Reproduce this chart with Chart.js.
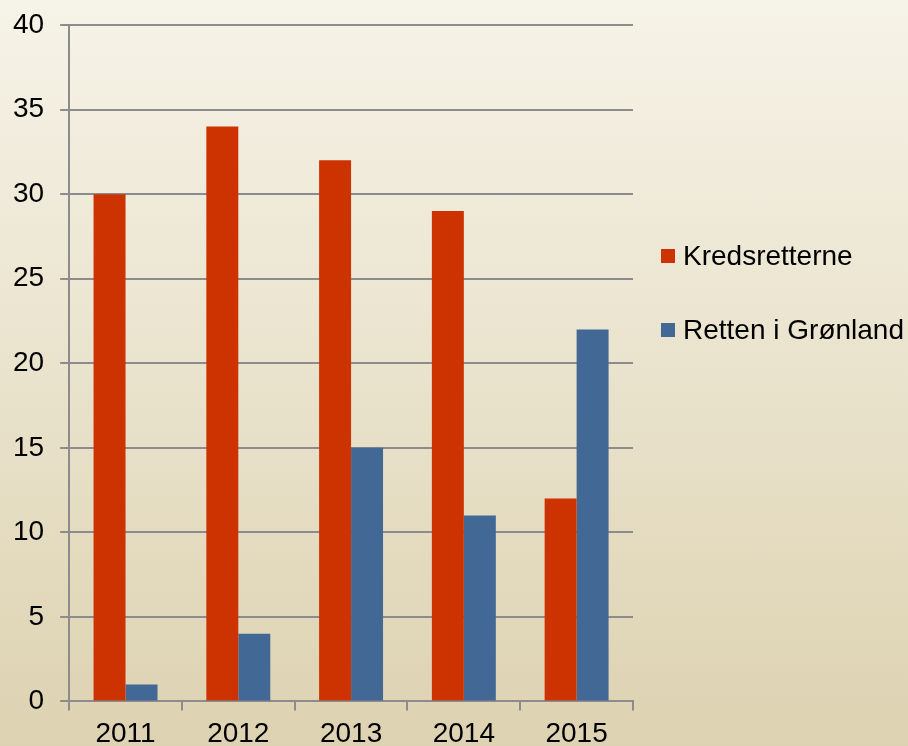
<!DOCTYPE html>
<html>
<head>
<meta charset="utf-8">
<script src="https://cdn.jsdelivr.net/npm/chart.js@4.4.0/dist/chart.umd.min.js"></script>
<style>
  html, body { margin: 0; padding: 0; }
  body {
    width: 908px; height: 746px; overflow: hidden; position: relative;
    background: linear-gradient(#f6f3e8, #ddd2b1);
    font-family: "Liberation Sans", Arial, sans-serif;
  }
  #wrap { position: absolute; left: 0; top: 0; width: 908px; height: 746px; }
  .legend-item { position: absolute; left: 661px; height: 30px; line-height: 30px; font-size: 28px; color: #000; white-space: nowrap; }
  .legend-item span.box { position: absolute; left: 0; top: 8px; width: 14px; height: 14px; }
  .legend-item span.txt { position: absolute; left: 22px; top: 0; }
</style>
</head>
<body>
<div id="wrap"><canvas id="myChart" width="908" height="746"></canvas></div>
<div id="legend"></div>
<script>
const years = ['2011', '2012', '2013', '2014', '2015'];
const kredsretterne = [30, 34, 32, 29, 12];
const rettenGronland = [1, 4, 15, 11, 22];
const seriesNames = ['Kredsretterne', 'Retten i Grønland'];
const seriesColors = ['#cc3300', '#426896'];

const gridColor = '#8c8c8c';
const fontFamily = '"Liberation Sans", Arial, sans-serif';

const ctx = document.getElementById('myChart').getContext('2d');
const chart = new Chart(ctx, {
  type: 'bar',
  data: {
    labels: years,
    datasets: [
      {
        label: seriesNames[0],
        data: kredsretterne,
        backgroundColor: seriesColors[0],
        barPercentage: 1.0,
        categoryPercentage: 0.567
      },
      {
        label: seriesNames[1],
        data: rettenGronland,
        backgroundColor: seriesColors[1],
        barPercentage: 1.0,
        categoryPercentage: 0.567
      }
    ]
  },
  options: {
    responsive: false,
    animation: false,
    layout: {
      padding: { left: -3, right: 275, top: 0, bottom: -12 }
    },
    plugins: {
      legend: { display: false },
      tooltip: { enabled: false }
    },
    scales: {
      x: {
        grid: {
          offset: true,
          drawOnChartArea: false,
          color: gridColor,
          lineWidth: 2,
          tickLength: 9
        },
        border: { color: gridColor, width: 2 },
        ticks: { color: '#000', font: { family: fontFamily, size: 28 }, padding: 7 }
      },
      y: {
        min: 0,
        max: 40,
        grid: {
          color: gridColor,
          lineWidth: 2,
          tickLength: 9
        },
        border: { color: gridColor, width: 2 },
        // small lineHeight keeps the top label from pushing the plot down
        ticks: { stepSize: 5, color: '#000', font: { family: fontFamily, size: 28, lineHeight: 0.65 }, padding: 16 }
      }
    }
  }
});

// legend drawn as html on the right side
const legendEl = document.getElementById('legend');
const legendTops = [241, 315];
seriesNames.forEach((name, i) => {
  const item = document.createElement('div');
  item.className = 'legend-item';
  item.style.top = legendTops[i] + 'px';
  item.innerHTML = '<span class="box" style="background:' + seriesColors[i] + '"></span><span class="txt">' + name + '</span>';
  legendEl.appendChild(item);
});
</script>
</body>
</html>
